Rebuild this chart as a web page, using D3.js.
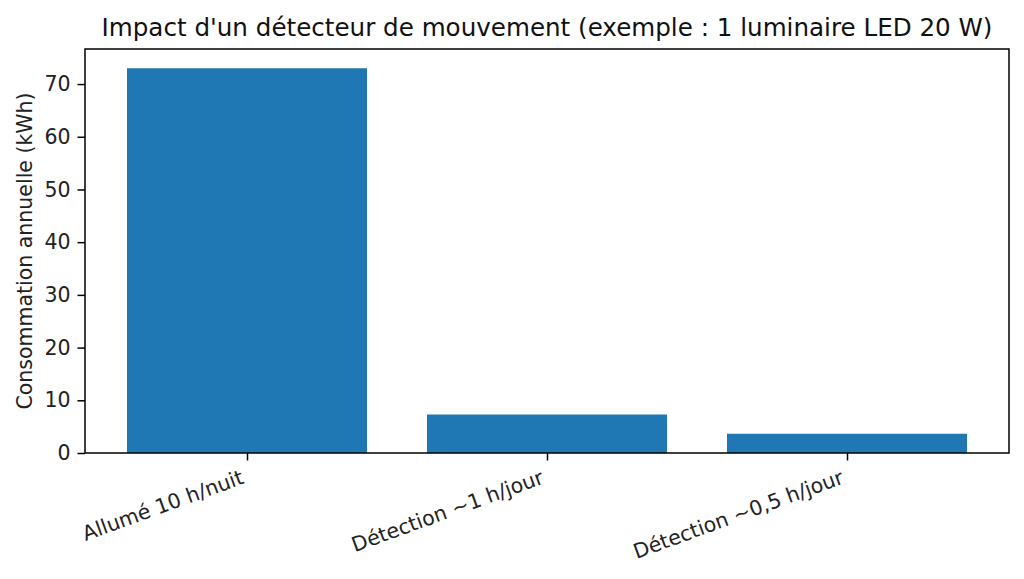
<!DOCTYPE html>
<html>
<head>
<meta charset="utf-8">
<script src="https://cdn.jsdelivr.net/npm/d3@7"></script>
<style>
  html, body { margin: 0; padding: 0; background: #fff; }
  svg { display: block; font-family: "DejaVu Sans", sans-serif; }
</style>
</head>
<body>
<div id="chart"></div>
<script>
// Data (kWh per year)
const categories = ['Allumé 10 h/nuit', 'Détection ~1 h/jour', 'Détection ~0,5 h/jour'];
const consumption = [73, 7.3, 3.65];
const yTicks = [0, 10, 20, 30, 40, 50, 60, 70];
const title = "Impact d'un détecteur de mouvement (exemple : 1 luminaire LED 20 W)";
const yLabel = 'Consommation annuelle (kWh)';

const width = 1024,
    height = 579,
    margin = {top: 49, right: 15, bottom: 126, left: 85},
    innerW = width - margin.left - margin.right,
    innerH = height - margin.top - margin.bottom,
    fontSize = 20.5;

const svg = d3.select('#chart')
    .append('svg')
    .attr('width', width)
    .attr('height', height);

const g = svg.append('g')
    .attr('transform', `translate(${margin.left},${margin.top})`);

// matplotlib style: bars at 0..n-1, width 0.8, 5% margins
const n = categories.length,
    xMin = -0.4 - 0.05 * (n - 1 + 0.8),
    xMax = n - 1 + 0.4 + 0.05 * (n - 1 + 0.8);

const x = d3.scaleLinear()
    .domain([xMin, xMax])
    .range([0, innerW]);

const y = d3.scaleLinear()
    .domain([0, d3.max(consumption) * 1.05])
    .range([innerH, 0]);

g.selectAll('rect.bar')
    .data(consumption)
    .join('rect')
    .attr('class', 'bar')
    .attr('x', (d, i) => x(i - 0.4))
    .attr('width', (d, i) => x(i + 0.4) - x(i - 0.4))
    .attr('y', d => y(d))
    .attr('height', d => y(0) - y(d))
    .attr('fill', '#1f77b4');

// y axis
const yAxis = g.append('g')
    .call(d3.axisLeft(y).tickValues(yTicks).tickSize(7.5).tickPadding(7).tickFormat(d3.format('d')));
yAxis.select('.domain').remove();
yAxis.selectAll('line').attr('stroke', '#000').attr('stroke-width', 1.5);
yAxis.selectAll('text')
    .attr('fill', '#222')
    .style('font-family', '"DejaVu Sans", sans-serif')
    .style('font-size', fontSize + 'px');

// x axis
const xAxis = g.append('g')
    .attr('transform', `translate(0,${innerH})`)
    .call(d3.axisBottom(x).tickValues(d3.range(n)).tickSize(7.5).tickFormat(''));
xAxis.select('.domain').remove();
xAxis.selectAll('line').attr('stroke', '#000').attr('stroke-width', 1.5);

g.append('g')
    .selectAll('text')
    .data(categories)
    .join('text')
    .attr('transform', (d, i) => `translate(${x(i) - 2},${innerH + 30}) rotate(-20)`)
    .attr('text-anchor', 'end')
    .attr('fill', '#222')
    .style('font-size', fontSize + 'px')
    .text(d => d);

// frame
g.append('rect')
    .attr('width', innerW)
    .attr('height', innerH)
    .attr('fill', 'none')
    .attr('stroke', '#000')
    .attr('stroke-width', 1.5);

// y label
svg.append('text')
    .attr('transform', `translate(32,${margin.top + innerH / 2}) rotate(-90)`)
    .attr('text-anchor', 'middle')
    .attr('fill', '#222')
    .style('font-size', fontSize + 'px')
    .text(yLabel);

// title
svg.append('text')
    .attr('x', margin.left + innerW / 2)
    .attr('y', 36)
    .attr('text-anchor', 'middle')
    .attr('fill', '#111')
    .style('font-size', (fontSize * 1.2) + 'px')
    .text(title);
</script>
</body>
</html>
